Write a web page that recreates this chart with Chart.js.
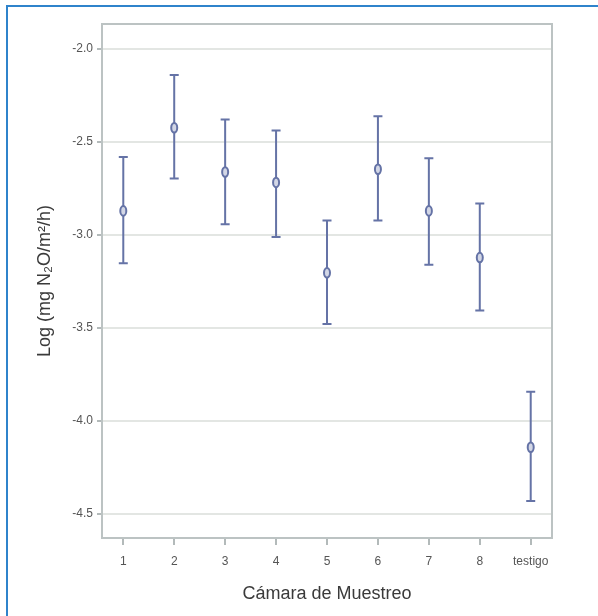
<!DOCTYPE html>
<html>
<head>
<meta charset="utf-8">
<script src="https://cdn.jsdelivr.net/npm/chart.js@4.4.0/dist/chart.umd.min.js"></script>
<style>
  html, body { margin: 0; padding: 0; background: #ffffff; }
  #wrap { position: relative; width: 598px; height: 616px; }
  #frame { position: absolute; left: 6px; top: 5px; right: -10px; bottom: -10px;
           border-left: 2px solid #2f83cb; border-top: 2px solid #2f83cb; pointer-events: none; }
  canvas { position: absolute; left: 0; top: 0; }
</style>
</head>
<body>
<div id="wrap">
  <canvas id="c" width="598" height="616"></canvas>
  <div id="frame"></div>
</div>
<script>
const categories = ['1', '2', '3', '4', '5', '6', '7', '8', 'testigo'];
const means = [-2.872, -2.425, -2.663, -2.719, -3.205, -2.648, -2.872, -3.123, -4.143];
const upper = [-2.582, -2.141, -2.381, -2.440, -2.923, -2.363, -2.589, -2.832, -3.845];
const lower = [-3.153, -2.698, -2.944, -3.012, -3.480, -2.923, -3.161, -3.407, -4.432];
const yTickValues = [-4.5, -4.0, -3.5, -3.0, -2.5, -2.0];
const xTitle = 'Cámara de Muestreo';
const yTitle = 'Log (mg N₂O/m²/h)';

const MARK = '#6573a6';
const points = categories.map((c, i) => ({ x: i + 1, y: means[i] }));

const errorBars = {
  id: 'errorBars',
  afterDatasetsDraw(chart) {
    const { ctx, scales: { x, y } } = chart;
    ctx.save();
    ctx.strokeStyle = MARK;
    ctx.lineWidth = 2;
    categories.forEach((c, i) => {
      const px = x.getPixelForValue(i + 1);
      const pt = y.getPixelForValue(upper[i]);
      const pb = y.getPixelForValue(lower[i]);
      const pm = y.getPixelForValue(means[i]);
      ctx.beginPath();
      ctx.moveTo(px, pt); ctx.lineTo(px, pb);
      ctx.moveTo(px - 4.5, pt); ctx.lineTo(px + 4.5, pt);
      ctx.moveTo(px - 4.5, pb); ctx.lineTo(px + 4.5, pb);
      ctx.stroke();
      ctx.beginPath();
      ctx.ellipse(px, pm, 3, 4.8, 0, 0, Math.PI * 2);
      ctx.fillStyle = '#d3d7e6';
      ctx.fill();
      ctx.stroke();
    });
    ctx.restore();
  }
};

const plotFrame = {
  id: 'plotFrame',
  afterDraw(chart) {
    const { ctx, chartArea: a } = chart;
    ctx.save();
    ctx.strokeStyle = '#bcc3c3';
    ctx.lineWidth = 2;
    ctx.strokeRect(a.left, a.top, a.right - a.left, a.bottom - a.top);
    ctx.restore();
  }
};

const tickFont = { family: "'Liberation Sans', Arial, sans-serif", size: 12 };
const titleFont = { family: "'Liberation Sans', Arial, sans-serif", size: 18 };

new Chart(document.getElementById('c'), {
  type: 'scatter',
  data: {
    datasets: [{
      data: points,
      pointRadius: 0,
      pointHoverRadius: 0,
      showLine: false
    }]
  },
  options: {
    responsive: false,
    animation: false,
    events: [],
    layout: { padding: { top: 24, right: 46, left: 0, bottom: 0 } },
    plugins: { legend: { display: false }, tooltip: { enabled: false } },
    scales: {
      x: {
        type: 'linear',
        min: 0.582,
        max: 9.418,
        afterFit(s) { s.height = 78; },
        afterBuildTicks(s) {
          s.ticks = categories.map((c, i) => ({ value: i + 1 }));
        },
        ticks: {
          padding: 9,
          color: '#555555',
          font: tickFont,
          maxRotation: 0,
          autoSkip: false,
          callback: (v) => categories[Math.round(v) - 1] ?? ''
        },
        grid: {
          drawOnChartArea: false,
          drawTicks: true,
          tickLength: 7,
          tickColor: '#b3baba',
          lineWidth: 2
        },
        border: { display: false },
        title: {
          display: true,
          text: xTitle,
          color: '#3a3a3a',
          font: titleFont,
          padding: { top: 0, bottom: 11 }
        }
      },
      y: {
        type: 'linear',
        min: -4.631,
        max: -1.867,
        afterFit(s) { s.width = 102; },
        afterBuildTicks(s) {
          s.ticks = yTickValues.map(v => ({ value: v }));
        },
        ticks: {
          padding: 4,
          color: '#555555',
          font: tickFont,
          callback: (v) => Number(v).toFixed(1)
        },
        grid: {
          color: '#e3e6e3',
          lineWidth: 2,
          drawTicks: true,
          tickLength: 5,
          tickColor: '#b3baba'
        },
        border: { display: false },
        title: {
          display: true,
          text: yTitle,
          color: '#3a3a3a',
          font: titleFont,
          padding: { top: 34, bottom: 0 }
        }
      }
    }
  },
  plugins: [errorBars, plotFrame]
});
</script>
</body>
</html>
